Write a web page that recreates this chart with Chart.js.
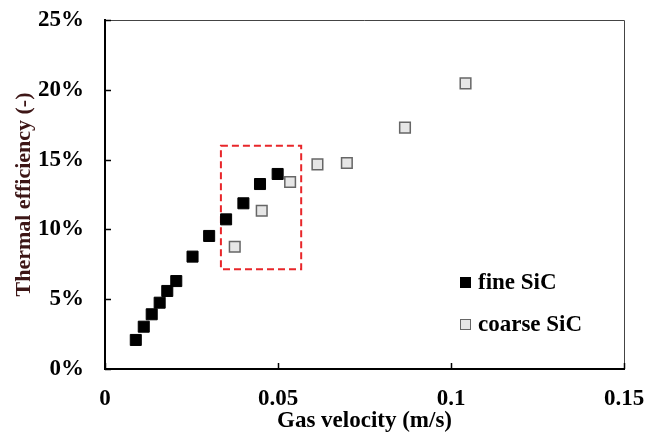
<!DOCTYPE html>
<html>
<head>
<meta charset="utf-8">
<script src="https://cdn.jsdelivr.net/npm/chart.js@4"></script>
<style>
  html, body { margin: 0; padding: 0; background: #fff; }
</style>
</head>
<body>
<canvas id="grafico" width="647" height="437"></canvas>
<script>
// dados
const fineVel = [0.0089, 0.0112, 0.0135, 0.0158, 0.0180, 0.0206, 0.0253, 0.0301, 0.0350, 0.0400, 0.0448, 0.0499];
const fineEff = [0.0208, 0.0303, 0.0392, 0.0475, 0.0559, 0.0630, 0.0805, 0.0953, 0.1072, 0.1187, 0.1325, 0.1397];
const coarseVel = [0.0375, 0.0453, 0.0535, 0.0614, 0.0699, 0.0867, 0.1042];
const coarseEff = [0.0876, 0.1134, 0.1340, 0.1466, 0.1476, 0.1729, 0.2046];
const seriesNames = ["fine SiC", "coarse SiC"];
const xTicks = [0, 0.05, 0.1, 0.15];
const yTicks = [0, 0.05, 0.10, 0.15, 0.20, 0.25];
const boxVel = [0.0335, 0.0567];
const boxEff = [0.0715, 0.160];

const serif = "'Liberation Serif', 'Times New Roman', serif";

function pares(xs, ys) {
    return xs.map((x, i) => ({ x: x, y: ys[i] }));
}

const extras = {
    id: 'extras',
    beforeDatasetsDraw(chart) {
        const ctx = chart.ctx;
        const sx = chart.scales.x, sy = chart.scales.y;
        // caixa tracejada vermelha
        const x1 = sx.getPixelForValue(boxVel[0]), x2 = sx.getPixelForValue(boxVel[1]);
        const y1 = sy.getPixelForValue(boxEff[1]), y2 = sy.getPixelForValue(boxEff[0]);
        ctx.save();
        ctx.strokeStyle = '#e8262a';
        ctx.lineWidth = 2;
        ctx.setLineDash([7, 4]);
        ctx.strokeRect(x1, y1, x2 - x1, y2 - y1);
        ctx.restore();
    },
    afterDraw(chart) {
        const ctx = chart.ctx;
        const a = chart.chartArea;
        const sx = chart.scales.x, sy = chart.scales.y;
        ctx.save();
        // bordas finas em cima e à direita
        ctx.strokeStyle = '#444';
        ctx.lineWidth = 1;
        ctx.beginPath();
        ctx.moveTo(a.left, a.top + 0.5);
        ctx.lineTo(a.right + 0.5, a.top + 0.5);
        ctx.lineTo(a.right + 0.5, a.bottom);
        ctx.stroke();
        // ticks para dentro
        ctx.strokeStyle = '#000';
        ctx.lineWidth = 1.5;
        ctx.beginPath();
        yTicks.forEach(v => {
            const y = Math.round(sy.getPixelForValue(v)) + 0.5;
            ctx.moveTo(a.left, y);
            ctx.lineTo(a.left + 6, y);
        });
        xTicks.forEach(v => {
            const x = Math.round(sx.getPixelForValue(v)) + 0.5;
            ctx.moveTo(x, a.bottom);
            ctx.lineTo(x, a.bottom - 6);
        });
        ctx.stroke();
        // legenda
        const lx = 465, ly = [282, 324];
        chart.data.datasets.forEach((ds, i) => {
            ctx.fillStyle = ds.backgroundColor;
            ctx.strokeStyle = ds.borderColor;
            ctx.lineWidth = 1;
            ctx.fillRect(lx - 5, ly[i] - 5, 11, 11);
            ctx.strokeRect(lx - 5 + 0.5, ly[i] - 5 + 0.5, 10, 10);
            ctx.fillStyle = '#000';
            ctx.font = "bold 23px " + serif;
            ctx.textBaseline = 'middle';
            ctx.textAlign = 'left';
            ctx.fillText(ds.label, lx + 13, ly[i] + 1);
        });
        ctx.restore();
    }
};

const ctx = document.getElementById("grafico");

new Chart(ctx, {
    type: 'scatter',
    data: {
        datasets: [
            {
                label: seriesNames[0],
                data: pares(fineVel, fineEff),
                pointStyle: 'rect',
                pointRadius: 7.8,
                backgroundColor: '#000',
                borderColor: '#000',
                borderWidth: 1
            },
            {
                label: seriesNames[1],
                data: pares(coarseVel, coarseEff),
                pointStyle: 'rect',
                pointRadius: 7.5,
                backgroundColor: '#e6e6e6',
                borderColor: '#666',
                borderWidth: 1.5
            }
        ]
    },
    options: {
        responsive: false,
        animation: false,
        layout: { padding: { left: 7, top: 20, right: 23, bottom: 0 } },
        plugins: {
            legend: { display: false },
            tooltip: { enabled: false }
        },
        scales: {
            x: {
                type: 'linear',
                min: 0,
                max: 0.15,
                afterBuildTicks: s => { s.ticks = xTicks.map(v => ({ value: v })); },
                afterFit: s => { s.height = 68; s.paddingLeft = 0; s.paddingRight = 0; },
                grid: { display: false, drawTicks: false },
                border: { display: true, width: 2, color: '#000' },
                ticks: {
                    padding: 16,
                    color: '#000',
                    maxRotation: 0,
                    font: { family: serif, size: 23, weight: 'bold' },
                    callback: v => String(v)
                },
                title: {
                    display: true,
                    text: 'Gas velocity (m/s)',
                    color: '#000',
                    padding: { top: 0, bottom: 2 },
                    font: { family: serif, size: 23, weight: 'bold' }
                }
            },
            y: {
                type: 'linear',
                min: 0,
                max: 0.25,
                afterBuildTicks: s => { s.ticks = yTicks.map(v => ({ value: v })); },
                afterFit: s => { s.width = 98; s.paddingTop = 0; s.paddingBottom = 0; },
                grid: { display: false, drawTicks: false },
                border: { display: true, width: 2, color: '#000' },
                ticks: {
                    padding: 21,
                    color: '#000',
                    font: { family: serif, size: 23, weight: 'bold' },
                    callback: v => Math.round(v * 100) + '%'
                },
                title: {
                    display: true,
                    text: 'Thermal efficiency (-)',
                    color: '#3d1616',
                    padding: { top: 4, bottom: 0 },
                    font: { family: serif, size: 22, weight: 'bold' }
                }
            }
        }
    },
    plugins: [extras]
});
</script>
</body>
</html>
